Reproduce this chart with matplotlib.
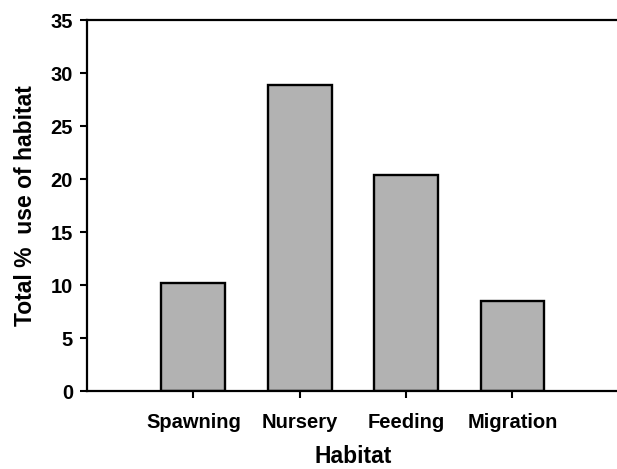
import matplotlib
matplotlib.use("Agg")
import matplotlib.pyplot as plt

plt.rcParams['font.family'] = ['Liberation Sans', 'DejaVu Sans']
plt.rcParams['font.weight'] = 'bold'

# 数据
habitats = ['Spawning', 'Nursery', 'Feeding', 'Migration']
use_pct = [10.2, 28.9, 20.4, 8.5]
y_ticks = [0, 5, 10, 15, 20, 25, 30, 35]

fig = plt.figure(figsize=(6.17, 4.69), dpi=100)
ax = fig.add_axes([0.141, 0.166, 0.862, 0.791])

pos = list(range(1, len(habitats) + 1))
ax.bar(pos, use_pct, width=0.6, color='#b2b2b2', edgecolor='black', linewidth=1.7)

ax.set_xlim(0, 5)
ax.set_ylim(0, 35)
ax.set_xticks(pos)
ax.set_xticklabels(habitats, fontsize=14.5, fontweight='bold')
ax.set_yticks(y_ticks)
ax.set_yticklabels([str(t) for t in y_ticks], fontsize=14.5, fontweight='bold')
ax.tick_params(direction='out', length=5, width=1.5, pad=5)
ax.tick_params(axis='x', pad=11)

for s in ax.spines.values():
    s.set_linewidth(1.6)

ax.set_xlabel('Habitat', fontsize=16.5, fontweight='bold', labelpad=9)
ax.set_ylabel('Total %  use of habitat', fontsize=16.5, fontweight='bold', labelpad=10)

plt.savefig('out.png', dpi=100, facecolor='white')
